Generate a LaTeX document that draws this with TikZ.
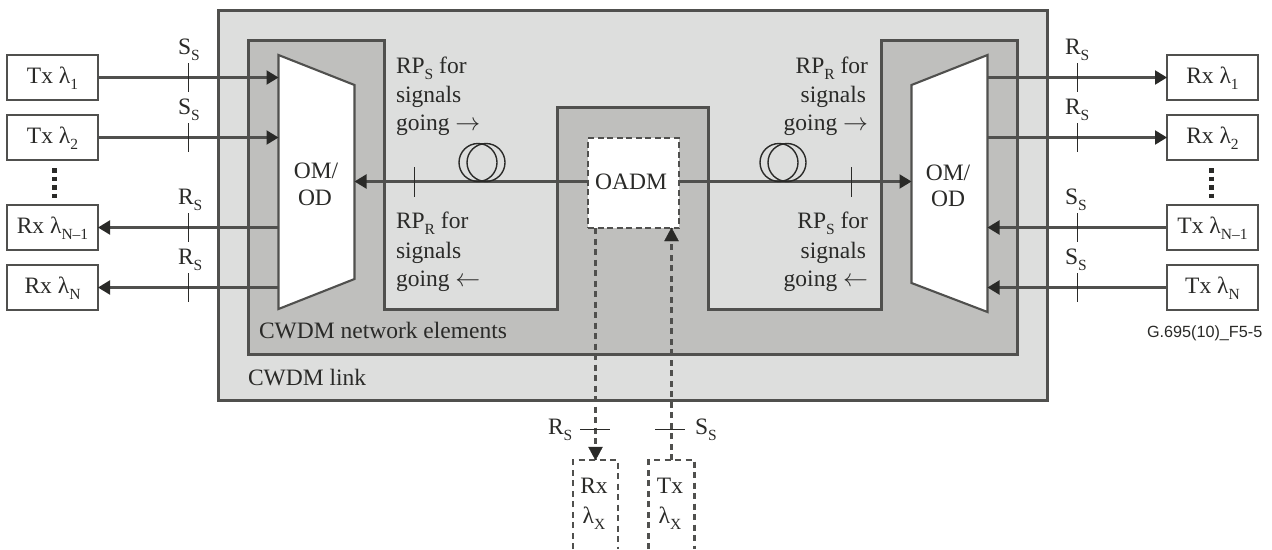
\documentclass[tikz,border=0pt]{standalone}
\usepackage{fontspec}
\setmainfont{Liberation Serif}
\newfontfamily\figsans{Liberation Sans}
\usetikzlibrary{arrows.meta}
\definecolor{ink}{HTML}{2A2A28}
\definecolor{rule}{HTML}{50504E}
\definecolor{linkfill}{HTML}{DDDEDD}
\definecolor{nefill}{HTML}{BFBFBD}
\newcommand{\sbs}[1]{\raisebox{-0.27em}{\fontsize{15.5}{15.5}\selectfont #1}}
\tikzset{
  x=1pt,y=-1pt,
  every node/.style={inner sep=0pt,outer sep=0pt,text=ink,font=\fontsize{23.5}{27}\selectfont},
  region/.style={draw=rule,line width=2.1pt,line join=miter},
  unitbox/.style={draw=rule,line width=2.1pt,minimum width=91pt,minimum height=45pt,text height=15pt,text depth=3pt},
  conn/.style={draw=rule,line width=2.1pt},
  arrowed/.style={conn,-{Triangle[length=12pt,width=14pt,color=ink]}},
  tick/.style={draw=ink,line width=1.7pt},
  dashedconn/.style={draw=rule,line width=2.1pt,dash pattern=on 6pt off 4.5pt},
  lab/.style={anchor=base west},
  labr/.style={anchor=base east},
  labc/.style={anchor=base},
  coil/.style={draw=ink,line width=1.4pt},
}
\begin{document}
\begin{tikzpicture}
\useasboundingbox (0,0) rectangle (1272,549);
% regions
\draw[region,fill=linkfill] (218.5,10.5) rectangle (1047.5,400.5);
\draw[region,fill=nefill] (248.5,40.5) -- (384.5,40.5) -- (384.5,309.5) -- (557.5,309.5) -- (557.5,107.5) -- (708.5,107.5) -- (708.5,309.5) -- (881.5,309.5) -- (881.5,40.5) -- (1017.5,40.5) -- (1017.5,354.5) -- (248.5,354.5) -- cycle;
% multiplexers
\coordinate (ltl) at (278.5,55); \coordinate (ltr) at (354.5,85);
\coordinate (lbr) at (354.5,279); \coordinate (lbl) at (278.5,309);
\coordinate (rtl) at (911.5,85); \coordinate (rtr) at (987.5,55);
\coordinate (rbr) at (987.5,312); \coordinate (rbl) at (911.5,283);
\draw[region,fill=white] (ltl) -- (ltr) -- (lbr) -- (lbl) -- cycle;
\draw[region,fill=white] (rtl) -- (rtr) -- (rbr) -- (rbl) -- cycle;
\node[labc] (om1a) at (316,178) {OM/};
\node[labc] (om1b) at (315,205) {OD};
\node[labc] (om2a) at (948,180) {OM/};
\node[labc] (om2b) at (948,206) {OD};
% OADM
\node[draw=rule,fill=white,line width=2.1pt,dash pattern=on 6pt off 3.5pt,minimum width=91pt,minimum height=90pt] (oadm) at (633.5,183) {};
\node[labc] (oadmtxt) at (631,189) {OADM};
% end units left
\node[unitbox] (tx1) at (52.5,77.5) {Tx λ\sbs{1}};
\node[unitbox] (tx2) at (52.5,137.5) {Tx λ\sbs{2}};
\node[unitbox] (rxn1) at (52.5,227.5) {Rx λ\sbs{N–1}};
\node[unitbox] (rxn) at (52.5,287.5) {Rx λ\sbs{N}};
% end units right
\node[unitbox] (rrx1) at (1212.5,77.5) {Rx λ\sbs{1}};
\node[unitbox] (rrx2) at (1212.5,137.5) {Rx λ\sbs{2}};
\node[unitbox] (ttxn1) at (1212.5,227.5) {Tx λ\sbs{N–1}};
\node[unitbox] (ttxn) at (1212.5,287.5) {Tx λ\sbs{N}};
% connectors left
\draw[arrowed] (tx1.east) -- (tx1.east -| ltl);
\draw[arrowed] (tx2.east) -- (tx2.east -| ltl);
\draw[arrowed] (rxn1.east -| ltl) -- (rxn1.east);
\draw[arrowed] (rxn.east -| ltl) -- (rxn.east);
% connectors right
\draw[arrowed] (rrx1.west -| rtr) -- (rrx1.west);
\draw[arrowed] (rrx2.west -| rtr) -- (rrx2.west);
\draw[arrowed] (ttxn1.west) -- (ttxn1.west -| rtr);
\draw[arrowed] (ttxn.west) -- (ttxn.west -| rtr);
% main span
\draw[arrowed] (oadm.west) ++(0,-1.5) coordinate (oa) -- (oa -| ltr);
\draw[arrowed] (oadm.east) ++(0,-1.5) coordinate (ob) -- (ob -| rtl);
% coils
\foreach \cx in {478,486,779,787}{\draw[coil] (\cx,162.5) circle[radius=19];}
% ticks
\foreach \tx in {188.5,1077.5}{
  \foreach \ty in {77.5,137.5,227.5,287.5}{\draw[tick] (\tx,\ty-14.5) -- (\tx,\ty+14.5);}
}
\draw[tick] (414.5,167) -- (414.5,197);
\draw[tick] (851.5,167) -- (851.5,197);
% dots
\draw[ink,line width=5pt,dash pattern=on 4.5pt off 4pt] (54,168) -- (54,198);
\draw[ink,line width=5pt,dash pattern=on 4.5pt off 4pt] (1211,168) -- (1211,198);
% Add/drop
\node[minimum width=45pt,minimum height=89pt] (rxx) at (595.5,504.5) {};
\node[minimum width=46pt,minimum height=89pt] (txx) at (671.5,504.5) {};
\draw[dashedconn] (rxx.south west) -- (rxx.north west) -- (rxx.north east) -- (rxx.south east);
\draw[dashedconn] (txx.south west) -- (txx.north west) -- (txx.north east) -- (txx.south east);
\draw[dashedconn] (rxx.north |- oadm.south) -- (rxx.north);
\draw[draw=ink,fill=ink] (rxx.north) -- ++(-7,-13) -- ++(14,0) -- cycle;
\draw[dashedconn] (txx.north) -- (txx.north |- oadm.south);
\draw[draw=ink,fill=ink] (txx.north |- oadm.south) -- ++(-7,13) -- ++(14,0) -- cycle;
\draw[tick] (580,429.5) -- (610,429.5);
\draw[tick] (655,429.5) -- (685,429.5);
\node[labc] (rxa) at (594,493) {Rx};
\node[labc] (rxb) at (594,523) {λ\sbs{X}};
\node[labc] (txa) at (670,493) {Tx};
\node[labc] (txb) at (670,523) {λ\sbs{X}};
\node[lab] (rsd) at (548,434) {R\sbs{S}};
\node[lab] (ssd) at (695,434) {S\sbs{S}};
% reference point labels, left
\node[lab] (s1) at (178,54) {S\sbs{S}};
\node[lab] (s2) at (178,114) {S\sbs{S}};
\node[lab] (r1) at (178,204) {R\sbs{S}};
\node[lab] (r2) at (178,264) {R\sbs{S}};
% right
\node[lab] (r3) at (1065,54) {R\sbs{S}};
\node[lab] (r4) at (1065,114) {R\sbs{S}};
\node[lab] (s3) at (1065,204) {S\sbs{S}};
\node[lab] (s4) at (1065,264) {S\sbs{S}};
% RP labels
\node[lab] (a1) at (396,73) {RP\sbs{S} for};
\node[lab] (a2) at (396,102) {signals};
\node[lab] (a3) at (396,130) {going $\rightarrow$};
\node[lab] (b1) at (396,228) {RP\sbs{R} for};
\node[lab] (b2) at (396,258) {signals};
\node[lab] (b3) at (396,286) {going $\leftarrow$};
\node[labr] (c1) at (868,73) {RP\sbs{R} for};
\node[labr] (c2) at (866,102) {signals};
\node[labr] (c3) at (868,130) {going $\rightarrow$};
\node[labr] (d1) at (868,228) {RP\sbs{S} for};
\node[labr] (d2) at (866,258) {signals};
\node[labr] (d3) at (868,286) {going $\leftarrow$};
\node[lab] (ne) at (259,338) {CWDM network elements};
\node[lab] (cl) at (248,385) {CWDM link};
\node[lab,font=\figsans\fontsize{16.2}{18}\selectfont] (ref) at (1147,337) {G.695(10)\_F5-5};
\end{tikzpicture}
\end{document}
